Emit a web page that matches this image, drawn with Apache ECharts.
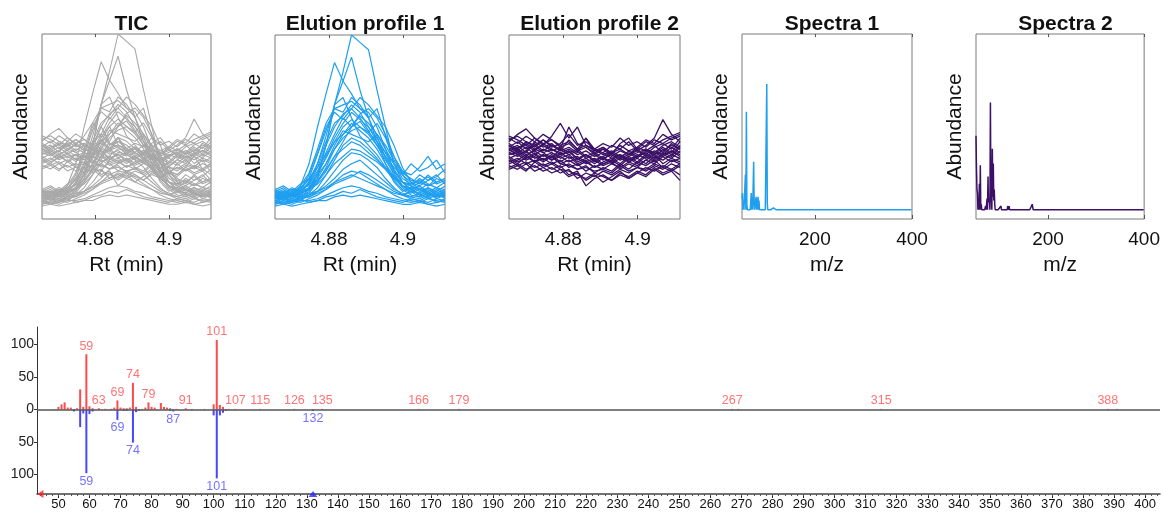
<!DOCTYPE html>
<html>
<head>
<meta charset="utf-8">
<script src="https://cdn.jsdelivr.net/npm/echarts@6/dist/echarts.min.js"></script>
<style>
  html, body { margin: 0; padding: 0; background: #fff; }
  #main { width: 1163px; height: 513px; }
</style>
</head>
<body>
<div id="main"></div>
<script>
// scan times (min) of the elution window
var rt = [4.8654, 4.8677, 4.8700, 4.8723, 4.8746, 4.8769, 4.8792, 4.8815, 4.8838, 4.8861, 4.8884,
          4.8907, 4.8930, 4.8953, 4.8976, 4.8999, 4.9022, 4.9045, 4.9068, 4.9091, 4.9114];

// ion traces assigned to component 1 (relative abundance, 0-100 of panel height)
var profile1 = [
  [14,12,15,13,17,24,40,62,80,100,96,92,70,50,30,20,16,14,17,15,18],
  [12,15,13,18,30,50,68,85,75,68,60,55,45,33,24,18,15,17,14,16,13],
  [10,12,11,14,20,30,45,62,75,88,70,55,42,30,20,15,17,13,15,12,14],
  [13,11,14,16,22,35,48,60,62,64,60,58,50,38,26,20,18,22,19,17,20],
  [15,17,14,18,25,38,52,60,58,66,62,55,60,45,30,24,20,18,21,24,19],
  [11,13,12,15,19,28,40,50,57,60,55,48,40,32,25,18,15,14,16,13,15],
  [9,11,10,12,16,24,34,44,52,58,54,50,44,36,27,20,16,13,12,14,11],
  [16,14,17,15,20,26,36,46,55,50,56,52,46,38,30,22,19,21,18,20,22],
  [12,10,13,11,14,20,28,38,46,52,48,44,38,30,23,17,14,16,13,15,12],
  [14,16,13,17,18,24,30,38,44,48,50,46,40,34,28,24,30,26,28,32,25],
  [10,9,11,10,13,17,24,32,40,44,42,38,33,27,21,16,13,12,14,11,13],
  [13,15,12,14,17,21,27,34,38,42,40,36,32,28,22,18,16,18,15,17,14],
  [8,10,9,11,12,15,20,26,32,36,35,32,28,22,17,13,11,10,12,9,11],
  [15,13,16,14,16,19,24,30,34,38,37,34,31,27,23,20,19,24,21,23,27],
  [11,12,10,12,13,15,18,22,27,30,32,28,24,20,16,14,12,14,11,13,12],
  [9,8,10,9,11,13,16,20,24,26,25,22,19,16,13,11,10,9,11,10,9],
  [12,14,11,13,14,15,17,20,22,24,22,20,18,16,14,13,15,12,14,13,15],
  [8,9,8,10,10,11,13,15,17,18,17,15,14,12,11,10,9,10,8,9,10],
  [10,8,9,11,9,10,12,13,15,14,16,14,12,11,10,9,11,10,9,11,10],
  [7,8,7,8,9,10,10,12,13,12,13,12,11,10,9,8,8,9,8,7,8],
  [13,12,14,12,15,22,40,62,66,55,45,40,35,28,22,18,17,20,23,19,21],
  [11,13,12,16,24,36,50,58,54,60,66,62,56,50,40,28,20,16,14,12,13],
  [12,11,13,14,16,20,26,34,42,50,57,60,55,46,34,24,18,15,17,14,16],
  [14,15,13,15,17,22,30,40,48,46,44,42,46,40,32,25,22,19,24,20,22],
  [16,18,15,19,22,28,35,42,46,50,53,47,42,36,30,26,24,28,34,27,30],
  [10,11,9,12,12,14,16,19,21,23,26,24,21,18,15,13,12,11,13,12,14],
  [13,12,15,17,21,30,42,52,56,62,58,50,42,34,26,20,18,16,19,17,16],
  [15,14,16,15,19,25,33,42,50,54,50,47,52,44,34,26,21,20,18,22,20]
];

// ion traces assigned to component 2 (flat background)
var profile2 = [
  [42,46,49,44,40,45,52,44,50,40,38,36,40,38,42,37,40,44,54,46,42],
  [38,40,36,42,39,41,37,43,38,44,36,39,35,41,44,38,42,40,43,45,47],
  [35,37,34,38,36,33,38,35,37,33,35,32,36,33,35,38,34,37,35,39,36],
  [40,36,39,35,38,36,34,37,32,35,31,34,30,33,31,34,36,33,38,35,40],
  [33,35,32,34,31,34,30,32,29,31,28,30,32,29,33,30,34,31,35,33,37],
  [30,32,35,31,33,30,32,28,30,26,29,27,30,28,31,29,32,30,34,31,33],
  [44,41,45,42,46,43,40,42,38,40,37,39,36,38,35,37,35,39,41,38,44],
  [36,34,37,33,35,32,34,31,33,30,32,29,31,27,30,28,32,35,30,33,31],
  [28,30,27,29,26,28,25,27,22,25,23,26,24,27,25,28,26,29,27,30,28],
  [32,29,31,28,30,27,29,24,26,18,22,24,21,25,23,26,24,28,25,27,24],
  [39,42,38,41,37,40,38,50,41,39,36,38,34,37,35,39,37,40,36,41,38],
  [34,31,33,36,32,35,31,34,30,32,28,31,33,30,34,31,35,32,36,34,39],
  [37,39,40,37,41,38,36,38,35,37,34,36,33,35,32,34,36,33,35,37,34],
  [31,33,30,32,29,31,28,30,27,29,25,28,26,30,27,31,29,32,28,26,21],
  [41,38,42,39,43,40,37,39,36,44,38,35,37,34,36,33,37,35,39,36,42],
  [29,27,30,26,28,25,27,23,25,21,24,20,23,26,22,25,23,27,24,26,29],
  [45,43,40,44,41,43,39,41,37,39,35,38,36,40,37,39,43,41,46,43,45],
  [35,36,33,35,32,34,30,29,27,28,26,27,25,29,26,28,27,30,28,32,30],
  [38,35,37,40,36,38,35,37,33,35,32,34,36,33,37,34,38,36,40,42,39],
  [33,30,34,31,35,32,36,33,34,31,33,30,32,35,31,33,30,34,32,35,33],
  [27,29,26,31,28,30,27,26,24,22,25,23,21,24,22,25,28,26,29,27,30],
  [43,45,42,40,43,39,41,46,40,42,38,41,39,44,40,42,39,43,41,44,46],
  [36,38,35,37,34,36,33,35,31,33,30,33,31,34,32,35,33,36,34,37,35],
  [40,37,41,38,40,37,39,36,38,34,36,33,35,32,34,36,38,35,37,40,38]
];

// deconvoluted spectra (m/z, intensity above baseline)
var spec1Mz  = [50, 51, 53, 57, 59, 60, 69, 71, 74, 75, 79, 81, 83, 85, 101, 102, 115, 128];
var spec1Int = [ 6,  9,  3, 19, 53,  3,  9,  3, 26,  4,  7,  6,  7,  5,  68,   4,   1,   1];
var spec2Mz  = [50, 51, 52, 53, 55, 57, 59, 61, 70, 72, 73, 75, 76, 77, 78, 80, 81, 82, 84, 85, 86, 87, 88, 89, 102, 116, 117, 119, 167, 168];
var spec2Int = [40, 22, 11,  9,  3, 14, 24,  3,  2,  3,  6, 18,  4,  5,  6, 58,  8,  6, 33,  7, 25,  5, 11,  3,   2,   2,   3,   2,   3,   2];

// mirror plot: library (top, red) and query (bottom, blue)
var libMz  = [50, 51, 52, 53, 54, 56, 57, 58, 59, 60, 61, 63, 65, 67, 68, 69, 70, 71, 72, 73, 74, 75, 77, 78, 79, 80, 81, 83, 84, 85, 86, 88, 91, 93, 97, 100, 101, 102, 103, 105, 107, 115, 126, 135, 166, 179, 267, 269, 315, 388, 391];
var libInt = [ 4,  8, 11,  3,  3,  2, 31,  4, 85,  5,  2,  2,  1,  1,  3, 14,  3,  2,  2,  3, 41,  4,  1,  3, 11,  4,  3, 10,  4,  3,  2,  1,  2,  1,  1,   8, 107,   7,   4,   1,   1,   1,   1,   1,   1,   1,   1,   1,   1,   1,   1];
var qMz  = [ 55,  57, 58,  59, 60, 61,  69, 71, 72,  74, 75, 76, 86, 87, 100,  101, 102, 103, 104, 132];
var qInt = [ -3, -27, -6, -98, -7, -3, -16, -2, -2, -51, -4, -2, -2, -3,  -9, -106,  -9,  -5,  -2,  -2];
var libLabels = [59, 63, 69, 74, 79, 91, 101, 107, 115, 126, 135, 166, 179, 267, 315, 388];
var qLabels = [59, 69, 74, 87, 101, 132];
var queryMarker = [132];

// tick labels
var rtTicks = [4.88, 4.9];
var mzTicks = [200, 400];
var mirrorYTicks = [-100, -50, 0, 50, 100];
var mirrorXTicks = [50, 60, 70, 80, 90, 100, 110, 120, 130, 140, 150, 160, 170, 180, 190, 200, 210, 220, 230, 240,
                    250, 260, 270, 280, 290, 300, 310, 320, 330, 340, 350, 360, 370, 380, 390, 400];

var FONT = 'Liberation Sans, Arial, Helvetica, sans-serif';
var BLUE = '#1e9ff0';
var PURPLE = '#3b1066';
var GRAY = '#a8a8a8';

var myChart = echarts.init(document.getElementById('main'));

var panels = [
  { title: 'TIC',               left: 42,  width: 169, top: 34, height: 185, kind: 'rt' },
  { title: 'Elution profile 1', left: 275, width: 170, top: 35, height: 184, kind: 'rt' },
  { title: 'Elution profile 2', left: 509, width: 171, top: 35, height: 184, kind: 'rt' },
  { title: 'Spectra 1',         left: 742, width: 170, top: 34, height: 185, kind: 'mz' },
  { title: 'Spectra 2',         left: 976, width: 169, top: 34, height: 185, kind: 'mz' }
];

var grids = [], xAxes = [], yAxes = [], titles = [], series = [];

panels.forEach(function (p, i) {
  grids.push({ left: p.left, top: p.top, width: p.width, height: p.height,
    show: true, borderColor: '#7a7a7a', borderWidth: 1, backgroundColor: 'transparent' });
  titles.push({ text: p.title, left: p.left + p.width / 2, top: 9, textAlign: 'center',
    textStyle: { fontFamily: FONT, fontSize: 21, fontWeight: 'bold', color: '#111' } });
  var isRt = p.kind === 'rt';
  var ticks = isRt ? rtTicks : mzTicks;
  xAxes.push({
    gridIndex: i, type: 'value', position: 'bottom',
    min: isRt ? rt[0] : 50, max: isRt ? rt[rt.length - 1] : 400,
    name: isRt ? 'Rt (min)' : 'm/z', nameLocation: 'middle', nameGap: 36,
    nameTextStyle: { fontFamily: FONT, fontSize: 21, color: '#111' },
    axisLine: { show: false, onZero: false },
    axisTick: { show: true, inside: true, length: 4, customValues: ticks, lineStyle: { color: '#555' } },
    axisLabel: { show: true, customValues: ticks, margin: 11, fontFamily: FONT, fontSize: 19, color: '#111',
      formatter: function (v) { return String(v); } },
    splitLine: { show: false }
  });
  xAxes.push({
    gridIndex: i, type: 'value', position: 'top',
    min: isRt ? rt[0] : 50, max: isRt ? rt[rt.length - 1] : 400,
    axisLine: { show: false, onZero: false },
    axisTick: { show: true, inside: true, length: 3, customValues: ticks, lineStyle: { color: '#555' } },
    axisLabel: { show: false }, splitLine: { show: false }
  });
  yAxes.push({
    gridIndex: i, type: 'value', min: isRt ? 0 : -5, max: isRt ? 100 : 95,
    name: 'Abundance', nameLocation: 'middle', nameGap: 10,
    nameTextStyle: { fontFamily: FONT, fontSize: 21, color: '#111' },
    axisLine: { show: false, onZero: false }, axisTick: { show: false }, axisLabel: { show: false }, splitLine: { show: false }
  });
});

function addTraces(traces, panelIdx, color, width) {
  traces.forEach(function (tr) {
    series.push({
      type: 'line', xAxisIndex: panelIdx * 2, yAxisIndex: panelIdx,
      data: rt.map(function (t, j) { return [t, tr[j]]; }),
      showSymbol: false, silent: true,
      lineStyle: { color: color, width: width }
    });
  });
}
addTraces(profile1.concat(profile2), 0, GRAY, 1.1);
addTraces(profile1, 1, BLUE, 1.2);
addTraces(profile2, 2, PURPLE, 1.3);

function spectrumLine(mz, inten) {
  var out = [];
  for (var m = 50; m <= 400; m++) {
    var k = mz.indexOf(m);
    out.push([m, k >= 0 ? inten[k] : 0]);
  }
  return out;
}
series.push({ type: 'line', xAxisIndex: 6, yAxisIndex: 3, data: spectrumLine(spec1Mz, spec1Int),
  showSymbol: false, silent: true, lineStyle: { color: BLUE, width: 1.5 } });
series.push({ type: 'line', xAxisIndex: 8, yAxisIndex: 4, data: spectrumLine(spec2Mz, spec2Int),
  showSymbol: false, silent: true, lineStyle: { color: PURPLE, width: 1.5 } });

// mirror plot
grids.push({ left: 37, right: 3, top: 327, bottom: 19, show: false });
var minorTicks = [];
for (var t = 44; t <= 404; t += 2) minorTicks.push(t);
xAxes.push({
  gridIndex: 5, type: 'value', position: 'bottom', min: 43.1, max: 404.8,
  axisLine: { show: true, onZero: false, lineStyle: { color: '#444', width: 1.5 } },
  axisTick: { show: true, length: 4, customValues: mirrorXTicks, lineStyle: { color: '#222' } },
  axisLabel: { customValues: mirrorXTicks, margin: 4, fontFamily: FONT, fontSize: 13, color: '#111' },
  splitLine: { show: false }
});
xAxes.push({
  gridIndex: 5, type: 'value', position: 'bottom', offset: 0, min: 43.1, max: 404.8,
  axisLine: { show: false, onZero: false },
  axisTick: { show: true, length: 2, customValues: minorTicks, lineStyle: { color: '#555' } },
  axisLabel: { show: false }, splitLine: { show: false }
});
yAxes.push({
  gridIndex: 5, type: 'value', min: -130, max: 127,
  axisLine: { show: true, onZero: false, lineStyle: { color: '#333', width: 1 } },
  axisTick: { show: true, length: 3, customValues: mirrorYTicks, lineStyle: { color: '#333' } },
  axisLabel: { customValues: mirrorYTicks, margin: 3, fontFamily: FONT, fontSize: 14, color: '#222',
    formatter: function (v) { return String(Math.abs(v)); } },
  splitLine: { show: false }
});

var RED = '#ff4a4a', QBLUE = '#4646ff';
series.push({
  type: 'bar', xAxisIndex: 10, yAxisIndex: 5, barWidth: 2, barGap: '-100%', silent: true,
  data: libMz.map(function (m, i) { return [m, libInt[i]]; }),
  itemStyle: { color: RED },
  markLine: { silent: true, symbol: 'none', label: { show: false },
    lineStyle: { color: '#555', width: 1.5, type: 'solid' }, data: [{ yAxis: 0 }] }
});
series.push({
  type: 'bar', xAxisIndex: 10, yAxisIndex: 5, barWidth: 2, barGap: '-100%', silent: true,
  data: qMz.map(function (m, i) { return [m, qInt[i]]; }),
  itemStyle: { color: QBLUE }
});
series.push({
  type: 'scatter', xAxisIndex: 10, yAxisIndex: 5, symbolSize: 1, silent: true,
  itemStyle: { color: 'rgba(0,0,0,0)' },
  data: libLabels.map(function (m) { return [m, libInt[libMz.indexOf(m)]]; }),
  label: { show: true, position: 'top', distance: 1, fontFamily: FONT, fontSize: 12.5, color: '#ff5050',
    formatter: function (p) { return String(p.value[0]); } }
});
series.push({
  type: 'scatter', xAxisIndex: 10, yAxisIndex: 5, symbolSize: 1, silent: true,
  itemStyle: { color: 'rgba(0,0,0,0)' },
  data: qLabels.map(function (m) { return [m, qInt[qMz.indexOf(m)]]; }),
  label: { show: true, position: 'bottom', distance: 1, fontFamily: FONT, fontSize: 12.5, color: '#5050ff',
    formatter: function (p) { return String(p.value[0]); } }
});
// query marker on the m/z axis and the scroll arrow at its left end
series.push({
  type: 'scatter', xAxisIndex: 10, yAxisIndex: 5, silent: true, clip: false,
  symbol: 'triangle', symbolSize: [9, 6],
  data: queryMarker.map(function (m) { return [m, -130]; }),
  itemStyle: { color: '#2a2aff' }
});
series.push({
  type: 'scatter', xAxisIndex: 10, yAxisIndex: 5, silent: true, clip: false,
  symbol: 'triangle', symbolSize: [8, 6], symbolRotate: 90,
  data: [[44.2, -130]],
  itemStyle: { color: '#ff2020' }
});

var option = {
  animation: false,
  backgroundColor: '#fff',
  title: titles,
  grid: grids,
  xAxis: xAxes,
  yAxis: yAxes,
  series: series
};

myChart.setOption(option);
</script>
</body>
</html>
